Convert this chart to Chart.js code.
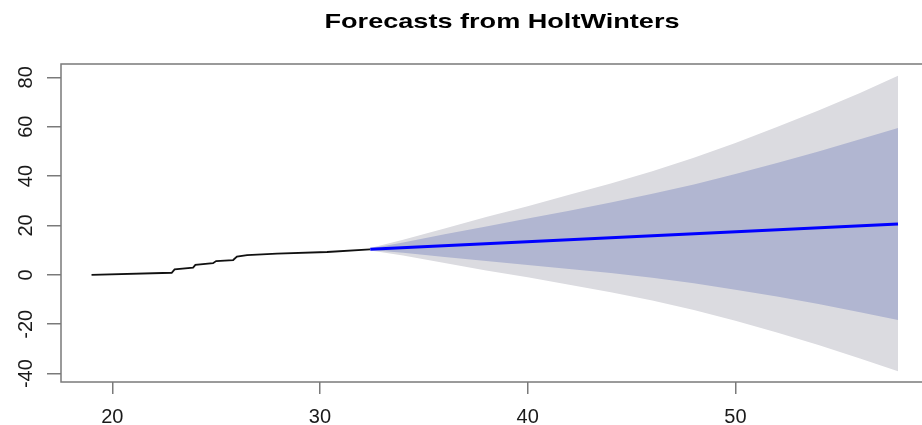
<!DOCTYPE html>
<html>
<head>
<meta charset="utf-8">
<script src="https://cdn.jsdelivr.net/npm/chart.js@4.4.1/dist/chart.umd.min.js"></script>
<style>
  html, body { margin: 0; padding: 0; background: #ffffff; }
  #wrap { width: 922px; height: 425px; overflow: hidden; position: relative; }
  canvas { display: block; }
</style>
</head>
<body>
<div id="wrap"><canvas id="c" width="940" height="425"></canvas></div>
<script>
// Title and axis tick labels
const chartTitle = 'Forecasts from HoltWinters';
const xTicks = [20, 30, 40, 50];
const yTicks = [-40, -20, 0, 20, 40, 60, 80];

// Observed series (time, value)
const histX = [19.0, 22.86, 23.0, 23.89, 24.0, 24.85, 25.0, 25.82, 26.0, 26.49, 27.93, 30.34, 32.41];
const histY = [0.0, 0.85, 2.2, 2.9, 4.0, 4.7, 5.6, 6.0, 7.35, 8.0, 8.6, 9.25, 10.35];

// Point forecast
const fcX = [32.42, 57.83];
const fcMean = [10.35, 20.6];

// Prediction intervals (80% and 95%)
const bandX = [32.42, 34, 36, 38, 40, 42, 44, 46, 48, 50, 52, 54, 56, 57.83];
const hi95 = [10.85, 14.2, 18.8, 23.4, 27.8, 32.4, 37.0, 42.0, 47.4, 53.4, 59.9, 66.6, 73.7, 80.6];
const lo95 = [9.85, 7.8, 4.8, 1.8, -1.0, -4.0, -7.0, -10.4, -14.2, -18.6, -23.4, -28.4, -33.9, -39.0];
const hi80 = [10.65, 13.1, 16.4, 19.6, 22.8, 26.0, 29.3, 32.8, 36.6, 40.8, 45.3, 50.0, 54.9, 59.5];
const lo80 = [10.05, 8.9, 7.2, 5.6, 4.0, 2.4, 0.7, -1.2, -3.4, -6.0, -8.8, -11.8, -15.1, -18.3];

const pts = (xs, ys) => xs.map((x, i) => ({ x: x, y: ys[i] }));

const axisGrey = '#7a7a7a';
const labelFont = '20px "Liberation Sans", Arial, sans-serif';
const titleFont = 'bold 21px "Liberation Sans", Arial, sans-serif';
const titleStretch = 1.29;

// Base-graphics look: framed plot box, rotated y labels, bold title
const basePlot = {
  id: 'basePlot',
  afterDatasetsDraw(chart) {
    const { ctx, chartArea: a } = chart;
    ctx.save();
    ctx.strokeStyle = axisGrey;
    ctx.lineWidth = 1.5;
    ctx.strokeRect(a.left, a.top, a.right - a.left, a.bottom - a.top);
    ctx.restore();
  },
  afterDraw(chart) {
    const { ctx, scales: { x, y } } = chart;
    ctx.save();
    ctx.fillStyle = '#1a1a1a';
    ctx.font = labelFont;
    ctx.textAlign = 'center';
    ctx.textBaseline = 'alphabetic';
    xTicks.forEach(v => ctx.fillText(String(v), x.getPixelForValue(v), 423));
    yTicks.forEach(v => {
      ctx.save();
      ctx.translate(31.7, y.getPixelForValue(v));
      ctx.rotate(-Math.PI / 2);
      ctx.fillText(String(v), 0, 0);
      ctx.restore();
    });
    ctx.fillStyle = '#000000';
    ctx.font = titleFont;
    ctx.save();
    ctx.translate(502, 28.3);
    ctx.scale(titleStretch, 1);
    ctx.fillText(chartTitle, 0, 0);
    ctx.restore();
    ctx.restore();
  }
};

new Chart(document.getElementById('c'), {
  type: 'line',
  data: {
    datasets: [
      { data: pts(fcX, fcMean), borderColor: '#0000ff', borderWidth: 3, pointRadius: 0, fill: false },
      { data: pts(histX, histY), borderColor: '#111111', borderWidth: 1.8, pointRadius: 0, fill: false },
      { data: pts(bandX, hi80), borderColor: 'transparent', borderWidth: 0, pointRadius: 0, fill: '+1', backgroundColor: '#b1b6d1' },
      { data: pts(bandX, lo80), borderColor: 'transparent', borderWidth: 0, pointRadius: 0, fill: false },
      { data: pts(bandX, hi95), borderColor: 'transparent', borderWidth: 0, pointRadius: 0, fill: '+1', backgroundColor: '#dbdbe0' },
      { data: pts(bandX, lo95), borderColor: 'transparent', borderWidth: 0, pointRadius: 0, fill: false }
    ]
  },
  options: {
    responsive: false,
    animation: false,
    devicePixelRatio: 1,
    layout: { padding: { top: 64, right: 10, left: 0, bottom: 0 } },
    elements: { line: { tension: 0 } },
    plugins: { legend: { display: false }, tooltip: { enabled: false }, title: { display: false } },
    scales: {
      x: {
        type: 'linear',
        min: 17.53,
        max: 59.37,
        afterBuildTicks: s => { s.ticks = xTicks.map(v => ({ value: v })); },
        afterFit: s => { s.height = 43; },
        ticks: { display: false },
        border: { display: false },
        grid: { drawOnChartArea: false, drawTicks: true, tickLength: 12, color: axisGrey, lineWidth: 1.5 }
      },
      y: {
        type: 'linear',
        min: -43.4,
        max: 85.4,
        afterBuildTicks: s => { s.ticks = yTicks.map(v => ({ value: v })); },
        afterFit: s => { s.width = 61; },
        ticks: { display: false },
        border: { display: false },
        grid: { drawOnChartArea: false, drawTicks: true, tickLength: 14, color: axisGrey, lineWidth: 1.5 }
      }
    }
  },
  plugins: [basePlot]
});
</script>
</body>
</html>
